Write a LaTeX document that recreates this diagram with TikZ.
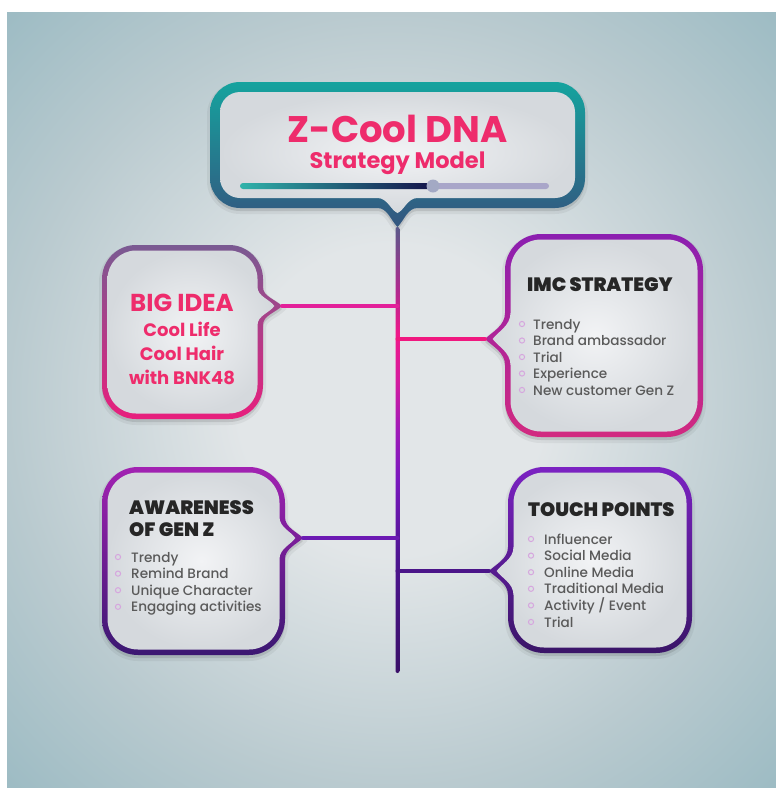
\documentclass[tikz,border=0pt]{standalone}
\usepackage{fontspec}
\setmainfont{Poppins}
\newfontfamily\headfont{Poppins Black}
\newfontfamily\itemfont{Poppins Medium}
\usepackage{xcolor}
\usepackage{tikz}
\usetikzlibrary{calc}
\definecolor{BgIn}{HTML}{E2E6E8}
\definecolor{BgMid}{HTML}{B9CACF}
\definecolor{BgOut}{HTML}{9EBCC4}
\definecolor{BoxIn}{HTML}{F2F3F5}
\definecolor{BoxOut}{HTML}{D5D9DD}
\definecolor{HotPink}{HTML}{EE2C6C}
\definecolor{HeadGray}{HTML}{262626}
\definecolor{ItemGray}{HTML}{5A5A5A}
\definecolor{BulletLilac}{HTML}{D6A6DE}
\definecolor{TitleTop}{HTML}{15A39E}
\definecolor{TitleBot}{HTML}{34557F}
\definecolor{IdeaTop}{HTML}{7A5A92}
\definecolor{IdeaBot}{HTML}{E81F7D}
\definecolor{ImcTop}{HTML}{8C1FB0}
\definecolor{ImcBot}{HTML}{D22A80}
\definecolor{AwareTop}{HTML}{A222B2}
\definecolor{AwareBot}{HTML}{3B1872}
\definecolor{TouchTop}{HTML}{7B22C2}
\definecolor{TouchBot}{HTML}{3A1568}
\definecolor{IdeaLink}{HTML}{E3209A}
\definecolor{ImcLink}{HTML}{F0187F}
\definecolor{AwareLink}{HTML}{6C1AB3}
\definecolor{TouchLink}{HTML}{4B1589}
\definecolor{SliderTeal}{HTML}{2FB3AA}
\definecolor{SliderNavy}{HTML}{14124A}
\definecolor{SliderLilac}{HTML}{A9A6C9}
\definecolor{KnobGray}{HTML}{A3A9C4}
\definecolor{Spine0}{HTML}{5B5A8B}
\definecolor{Spine1}{HTML}{B02A8E}
\definecolor{Spine2}{HTML}{F0188A}
\definecolor{Spine3}{HTML}{D61C9E}
\definecolor{Spine4}{HTML}{A01AB8}
\definecolor{Spine5}{HTML}{7A18BE}
\definecolor{Spine6}{HTML}{4D1590}
\definecolor{Spine7}{HTML}{3A1068}
\pgfdeclareradialshading{bgshade}{\pgfpoint{0bp}{0bp}}{color(0bp)=(BgIn); color(10bp)=(BgIn); color(25bp)=(BgMid); color(35bp)=(BgOut); color(50bp)=(BgOut)}
\pgfdeclareverticalshading{spineshade}{100bp}{color(0bp)=(Spine7); color(25bp)=(Spine7); color(37.7bp)=(Spine6); color(46.7bp)=(Spine5); color(52.3bp)=(Spine4); color(57.9bp)=(Spine3); color(63bp)=(Spine2); color(68bp)=(Spine1); color(75bp)=(Spine0); color(100bp)=(Spine0)}
\newcommand\setbub[2]{\def\bubr{#1}\def\bubw{#2}\pgfmathsetmacro\buba{#1-#2}}
\newcommand\bubR[7]{%
 (#1+\bubr,#2+\bubw) -- (#3-\bubr,#2+\bubw)
 arc[start angle=-90,end angle=0,radius=\buba]
 -- (#3-\bubw,#5-#6)
 .. controls (#3-\bubw,#5-0.5*#6) and (#3+0.65*#7-\bubw,#5-0.35*#7) .. (#3+#7-1.4*\bubw,#5)
 .. controls (#3+0.65*#7-\bubw,#5+0.35*#7) and (#3-\bubw,#5+0.5*#6) .. (#3-\bubw,#5+#6)
 -- (#3-\bubw,#4-\bubr)
 arc[start angle=0,end angle=90,radius=\buba]
 -- (#1+\bubr,#4-\bubw)
 arc[start angle=90,end angle=180,radius=\buba]
 -- (#1+\bubw,#2+\bubr)
 arc[start angle=180,end angle=270,radius=\buba] -- cycle}
\newcommand\bubL[7]{%
 (#1+\bubr,#2+\bubw) -- (#3-\bubr,#2+\bubw)
 arc[start angle=-90,end angle=0,radius=\buba]
 -- (#3-\bubw,#4-\bubr)
 arc[start angle=0,end angle=90,radius=\buba]
 -- (#1+\bubr,#4-\bubw)
 arc[start angle=90,end angle=180,radius=\buba]
 -- (#1+\bubw,#5+#6)
 .. controls (#1+\bubw,#5+0.5*#6) and (#1-0.65*#7+\bubw,#5+0.35*#7) .. (#1-#7+1.4*\bubw,#5)
 .. controls (#1-0.65*#7+\bubw,#5-0.35*#7) and (#1+\bubw,#5-0.5*#6) .. (#1+\bubw,#5-#6)
 -- (#1+\bubw,#2+\bubr)
 arc[start angle=180,end angle=270,radius=\buba] -- cycle}
\newcommand\bubD[7]{%
 (#1+\bubr,#2+\bubw) -- (#3-\bubr,#2+\bubw)
 arc[start angle=-90,end angle=0,radius=\buba]
 -- (#3-\bubw,#4-\bubr)
 arc[start angle=0,end angle=90,radius=\buba]
 -- (#5+#6,#4-\bubw)
 .. controls (#5+0.5*#6,#4-\bubw) and (#5+0.35*#7,#4+0.65*#7-\bubw) .. (#5,#4+#7-1.4*\bubw)
 .. controls (#5-0.35*#7,#4+0.65*#7-\bubw) and (#5-0.5*#6,#4-\bubw) .. (#5-#6,#4-\bubw)
 -- (#1+\bubr,#4-\bubw)
 arc[start angle=90,end angle=180,radius=\buba]
 -- (#1+\bubw,#2+\bubr)
 arc[start angle=180,end angle=270,radius=\buba] -- cycle}
\newcommand\bubble[5]{%
 \setbub{#5}{0}
 \fill[black,opacity=0.10,yshift=-3pt] #1;
 \draw[black,opacity=0.05,line width=6pt,yshift=-3pt] #1;
 \shade[top color=#2,bottom color=#3] #1;
 \setbub{#5}{#4}
 \shade[inner color=BoxIn,outer color=BoxOut] #1;
}

\begin{document}
\begin{tikzpicture}[x=1pt,y=-1pt,
  pinktext/.style={text=HotPink,anchor=base,inner sep=0pt},
  head/.style={text=HeadGray,anchor=base west,inner sep=0pt,font=\headfont\fontsize{19.3}{19.3}\selectfont},
  item/.style={text=ItemGray,anchor=base west,inner sep=0pt,font=\itemfont\fontsize{13.6}{13.6}\selectfont},
  bullet/.style={draw=BulletLilac,line width=1pt},
  link/.style={line width=4pt,line cap=round}]
\useasboundingbox (0,0) rectangle (776,788);
\fill[white] (0,0) rectangle (776,788);
\shade[shading=bgshade] (7,12) rectangle (776,788);

\bubble{\bubD{210}{82}{585}{208}{397.5}{20}{19}}{TitleTop}{TitleBot}{10}{30}
\bubble{\bubR{102}{245}{263}{419}{306}{19}{19}}{IdeaTop}{IdeaBot}{5.5}{34}
\bubble{\bubL{505}{234}{703}{437}{339}{26}{20}}{ImcTop}{ImcBot}{5.5}{36}
\bubble{\bubR{102}{467}{285}{655}{538}{21}{18}}{AwareTop}{AwareBot}{5.5}{36}
\bubble{\bubL{508}{467}{692}{653}{571}{24}{19}}{TouchTop}{TouchBot}{5.5}{36}

\coordinate (title tip) at (397.5,227);
\coordinate (spine end) at (397.5,673);
\coordinate (idea tip) at (282,306);
\coordinate (imc tip) at (485,339);
\coordinate (aware tip) at (303,538);
\coordinate (touch tip) at (489,571);

\shade[left color=SliderTeal,right color=SliderNavy,rounded corners=3pt] (240,183) rectangle (433,189);
\fill[SliderLilac,rounded corners=3pt] (433,183) rectangle (549,189);
\fill[KnobGray] (433,186) circle (6.5);

\shade[shading=spineshade,rounded corners=2pt] ($(title tip)+(-2,0)$) rectangle ($(spine end)+(2,0)$);
\draw[link,IdeaLink] (idea tip) -- (idea tip -| spine end);
\draw[link,ImcLink] (imc tip) -- (imc tip -| spine end);
\draw[link,AwareLink] (aware tip) -- (aware tip -| spine end);
\draw[link,TouchLink] (touch tip) -- (touch tip -| spine end);

\node[pinktext,text depth=0pt,font=\fontsize{37}{37}\bfseries] (title main) at (397.5,142) {Z-Cool DNA};
\node[pinktext,text height=15pt,font=\fontsize{22.5}{22.5}\bfseries] (title sub) at (397.5,168) {Strategy Model};

\node[pinktext,font=\fontsize{24.5}{24.5}\bfseries] (idea head) at (182,311) {BIG IDEA};
\foreach \txt [count=\i from 0] in {Cool Life,Cool Hair,with BNK48}
  \node[pinktext,font=\fontsize{18}{18}\bfseries] (idea line \i) at (182,336+24*\i) {\txt};

\node[head] (imc head) at (527,291) {IMC STRATEGY};
\foreach \txt [count=\i from 0] in {Trendy,Brand ambassador,Trial,Experience,New customer Gen Z}{
  \node[item] (imc item \i) at (533,329+16.5*\i) {\txt};
  \draw[bullet] (522,324+16.5*\i) circle (2.6);
}

\node[head] (aware head) at (129,514) {AWARENESS};
\node[head] (aware head2) at (129,536) {OF GEN Z};
\foreach \txt [count=\i from 0] in {Trendy,Remind Brand,Unique Character,Engaging activities}{
  \node[item] (aware item \i) at (131,562+16.6*\i) {\txt};
  \draw[bullet] (118,557+16.6*\i) circle (2.6);
}

\node[head] (touch head) at (528,516) {TOUCH POINTS};
\foreach \txt [count=\i from 0] in {Influencer,Social Media,Online Media,Traditional Media,{Activity / Event},Trial}{
  \node[item] (touch item \i) at (544,544+16.6*\i) {\txt};
  \draw[bullet] (531,539+16.6*\i) circle (2.6);
}
\end{tikzpicture}
\end{document}
